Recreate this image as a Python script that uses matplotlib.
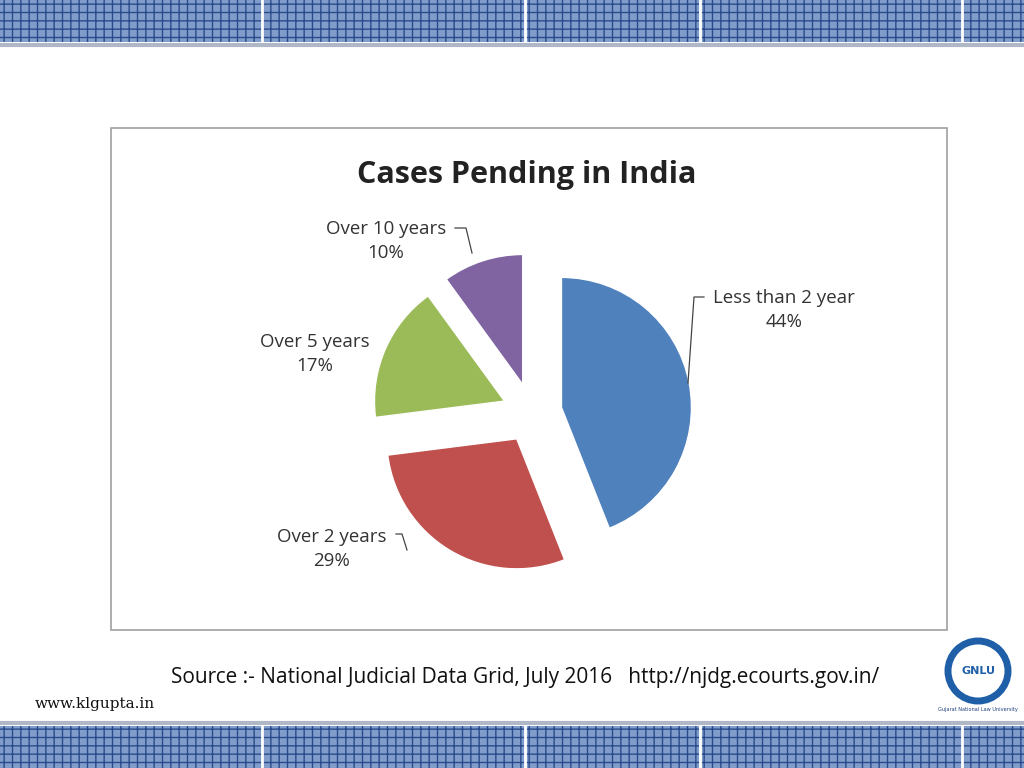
import matplotlib.pyplot as plt
from matplotlib.patches import Rectangle

categories = ["Less than 2 year", "Over 2 years", "Over 5 years", "Over 10 years"]
shares = [44, 29, 17, 10]
colors = ["#4F81BD", "#C0504D", "#9BBB59", "#8064A2"]

fig = plt.figure(figsize=(10.24, 7.68), dpi=100)
ax = fig.add_axes([0, 0, 1, 1])

# banners top and bottom
for y0, h in [(726, 42), (0, 42)]:
    ax.add_patch(Rectangle((0, y0), 1024, h, facecolor="#7F9CCB", edgecolor="#2B4C8C",
                           hatch="++", linewidth=0))
    for x in [262, 525, 700, 962]:
        ax.plot([x, x], [y0, y0 + h], color="white", lw=2)
ax.plot([0, 1024], [723, 723], color="#B0B8C8", lw=3)
ax.plot([0, 1024], [45, 45], color="#B0B8C8", lw=3)

# chart frame
ax.add_patch(Rectangle((111, 138), 836, 502, facecolor="white", edgecolor="#A0A0A0", lw=1.2))
ax.text(527, 593, "Cases Pending in India", ha="center", va="center",
        fontsize=22, fontweight="bold", family="Open Sans", color="#222222")

ax.pie(shares, colors=colors, startangle=90, counterclock=False,
       explode=[30] * 4, center=(532, 355), radius=130, frame=True,
       wedgeprops=dict(edgecolor="white", linewidth=1))
ax.set_xlim(0, 1024)
ax.set_ylim(0, 768)
ax.set_aspect("equal")
ax.axis("off")

lab = dict(ha="center", va="center", fontsize=13.5, family="Open Sans", color="#333333", linespacing=1.4)
ax.text(784, 458, f"{categories[0]}\n{shares[0]}%", **lab)
ax.text(332, 219, f"{categories[1]}\n{shares[1]}%", **lab)
ax.text(315, 414, f"{categories[2]}\n{shares[2]}%", **lab)
ax.text(386, 527, f"{categories[3]}\n{shares[3]}%", **lab)
ax.plot([704, 694, 688], [471, 471, 385], color="#444444", lw=0.9)
ax.plot([396, 402, 407], [234, 234, 218], color="#444444", lw=0.9)
ax.plot([455, 466, 472], [540, 540, 515], color="#444444", lw=0.9)

ax.text(525, 91, "Source :- National Judicial Data Grid, July 2016   http://njdg.ecourts.gov.in/",
        ha="center", va="center", fontsize=15, family="Open Sans", color="#111111")
ax.text(35, 64, "www.klgupta.in", ha="left", va="center", fontsize=11,
        family="DejaVu Serif", color="#111111")
ax.text(978, 58, "Gujarat National Law University", ha="center", va="center", fontsize=3.6, color="#1F3F7F")
ax.add_patch(plt.Circle((978, 97), 30, facecolor="white", edgecolor="#1F5FA8", lw=5))
ax.text(978, 97, "GNLU", ha="center", va="center", fontsize=8, fontweight="bold", color="#1F5FA8")

fig.savefig("out.png", dpi=100)
